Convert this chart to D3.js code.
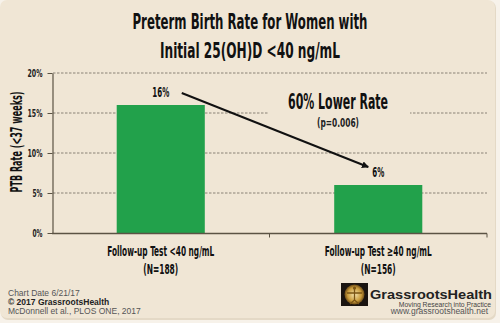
<!DOCTYPE html>
<html><head><meta charset="utf-8">
<script src="https://cdn.jsdelivr.net/npm/d3@7"></script>
<style>
html,body{margin:0;padding:0;background:#f7f2ea;}
svg{display:block;}
.cond{font-family:'Liberation Sans Narrow','DejaVu Sans Condensed',sans-serif;font-weight:bold;}
.arial{font-family:'Liberation Sans',Arial,sans-serif;}
</style>
</head><body>
<script>
const categories = ["Follow-up Test <40 ng/mL", "Follow-up Test \u226540 ng/mL"];
const sampleSizes = ["(N=188)", "(N=156)"];
const rates = [16, 6];
const valueLabels = ["16%", "6%"];
const yTicks = [0, 5, 10, 15, 20];
const titleLines = ["Preterm Birth Rate for Women with", "Initial 25(OH)D <40 ng/mL"];
const footerLines = ["Chart Date 6/21/17", "\u00a9 2017 GrassrootsHealth", "McDonnell et al., PLOS ONE, 2017"];

const W = 500, H = 323;
const svg = d3.select("body").append("svg").attr("width", W).attr("height", H);

svg.append("rect").attr("x", 1).attr("y", 1).attr("width", 495).attr("height", 319)
  .attr("rx", 7).attr("fill", "#e4d9c6");
svg.append("rect").attr("x", 0).attr("y", 0).attr("width", 495).attr("height", 318)
  .attr("rx", 7).attr("fill", "#f0e6d5");

const x = d3.scaleBand().domain(categories).range([52, 487]).paddingInner(0.595).paddingOuter(0.2975);
const y = d3.scaleLinear().domain([0, 20]).range([233, 73]);

// title
svg.selectAll(".title").data(titleLines).join("text")
  .attr("class", "cond").attr("x", 250).attr("y", (d, i) => 29 + i * 28.5)
  .attr("text-anchor", "middle").attr("font-size", 22).attr("fill", "#111")
  .attr("textLength", (d, i) => i === 0 ? 235 : 180).attr("lengthAdjust", "spacingAndGlyphs")
  .text(d => d);

// gridlines
svg.append("g").selectAll("line").data(yTicks.filter(t => t > 0)).join("line")
  .attr("x1", 53).attr("x2", 487).attr("y1", d => y(d)).attr("y2", d => y(d))
  .attr("stroke", "#8a8276").attr("stroke-width", 1).attr("stroke-dasharray", "2.5,1.5");

// annotation background
svg.append("rect").attr("x", 268).attr("y", 88).attr("width", 142).attr("height", 44).attr("fill", "#f0e6d5");

// bars
svg.selectAll(".bar").data(rates).join("rect")
  .attr("x", (d, i) => x(categories[i])).attr("width", x.bandwidth())
  .attr("y", d => y(d)).attr("height", d => y(0) - y(d)).attr("fill", "#22a14b");

// y axis
const yAxis = d3.axisLeft(y).tickValues(yTicks).tickFormat(d => d + "%").tickSize(5).tickSizeOuter(0);
const ga = svg.append("g").attr("transform", "translate(52.5,0)").call(yAxis);
ga.select(".domain").attr("stroke", "#5b5344").attr("stroke-width", 1.2);
ga.selectAll(".tick line").attr("stroke", "#5b5344");
ga.selectAll(".tick text").attr("class", "cond").attr("font-size", 11).attr("fill", "#222")
  .attr("x", -10).attr("dy", "0.35em")
  .attr("textLength", d => d >= 10 ? 15 : 10).attr("lengthAdjust", "spacingAndGlyphs");

// x axis
const gx = svg.append("g").attr("transform", "translate(0,233.5)");
gx.append("line").attr("x1", 52).attr("x2", 487).attr("stroke", "#5b5344").attr("stroke-width", 1.4);
gx.selectAll(".xt").data([x.step() + 52, 487]).join("line")
  .attr("x1", d => d).attr("x2", d => d).attr("y1", 0).attr("y2", 4).attr("stroke", "#5b5344");

// category labels
svg.selectAll(".cat").data(categories).join("text")
  .attr("class", "cond").attr("x", d => x(d) + x.bandwidth() / 2).attr("y", 255.5)
  .attr("text-anchor", "middle").attr("font-size", 14).attr("fill", "#111")
  .attr("textLength", 107).attr("lengthAdjust", "spacingAndGlyphs").text(d => d);
svg.selectAll(".ncat").data(sampleSizes).join("text")
  .attr("class", "cond").attr("x", (d, i) => x(categories[i]) + x.bandwidth() / 2).attr("y", 273.5)
  .attr("text-anchor", "middle").attr("font-size", 14).attr("fill", "#111")
  .attr("textLength", 35).attr("lengthAdjust", "spacingAndGlyphs").text(d => d);

// y axis title
svg.append("text").attr("class", "cond")
  .attr("transform", "translate(22,142) rotate(-90)").attr("text-anchor", "middle")
  .attr("font-size", 15).attr("fill", "#111")
  .attr("textLength", 101).attr("lengthAdjust", "spacingAndGlyphs")
  .text("PTB Rate (<37 weeks)");

// value labels
svg.selectAll(".val").data(rates).join("text")
  .attr("class", "cond").attr("x", (d, i) => x(categories[i]) + x.bandwidth() / 2)
  .attr("y", d => y(d) - 8).attr("text-anchor", "middle").attr("font-size", 13.5).attr("fill", "#111")
  .attr("textLength", (d, i) => i === 0 ? 17 : 12).attr("lengthAdjust", "spacingAndGlyphs")
  .text((d, i) => valueLabels[i]);

// arrow
svg.append("defs").append("marker").attr("id", "ah").attr("viewBox", "0 0 10 10")
  .attr("refX", 9).attr("refY", 5).attr("markerWidth", 7).attr("markerHeight", 7)
  .attr("markerUnits", "userSpaceOnUse").attr("orient", "auto")
  .append("path").attr("d", "M0,0 L10,5 L0,10 Z").attr("fill", "#111");
const ax0 = x(categories[0]) + x.bandwidth() / 2 + 21, ay0 = y(rates[0]) - 12;
const ax1 = x(categories[1]) + x.bandwidth() / 2 - 10, ay1 = y(rates[1]) - 18;
svg.append("line").attr("x1", ax0).attr("y1", ay0).attr("x2", ax1).attr("y2", ay1)
  .attr("stroke", "#111").attr("stroke-width", 2).attr("marker-end", "url(#ah)");

// annotation
svg.append("text").attr("class", "cond").attr("x", 338).attr("y", 109).attr("text-anchor", "middle")
  .attr("font-size", 21).attr("fill", "#111").attr("textLength", 100).attr("lengthAdjust", "spacingAndGlyphs")
  .text("60% Lower Rate");
svg.append("text").attr("class", "cond").attr("x", 338).attr("y", 127).attr("text-anchor", "middle")
  .attr("font-size", 12).attr("font-weight", "normal").attr("fill", "#222").attr("textLength", 42).attr("lengthAdjust", "spacingAndGlyphs")
  .text("(p=0.006)");

// footer
svg.selectAll(".foot").data(footerLines).join("text")
  .attr("class", "arial").attr("x", 8).attr("y", (d, i) => 296 + i * 9)
  .attr("font-size", 8.5).attr("font-weight", (d, i) => i === 1 ? "bold" : "normal")
  .attr("fill", (d, i) => i === 1 ? "#222" : "#555").text(d => d);

// logo
const lg = svg.append("g");
const grad = svg.select("defs").append("radialGradient").attr("id", "lgGrad");
grad.append("stop").attr("offset", "0%").attr("stop-color", "#f7e6b0");
grad.append("stop").attr("offset", "70%").attr("stop-color", "#c89a3a");
grad.append("stop").attr("offset", "100%").attr("stop-color", "#6b4a16");
lg.append("rect").attr("x", 341).attr("y", 283).attr("width", 27).attr("height", 23).attr("fill", "#1a1410");
lg.append("circle").attr("cx", 354.5).attr("cy", 294.5).attr("r", 10).attr("fill", "url(#lgGrad)");
lg.append("path").attr("d", "M354.5,288 L354.5,300 M347,293 L362,293 M354.5,300 L350,304 M354.5,300 L359,304")
  .attr("stroke", "#7a5516").attr("stroke-width", 1.3).attr("fill", "none");
lg.append("circle").attr("cx", 354.5).attr("cy", 288).attr("r", 1.6).attr("fill", "#7a5516");
lg.append("text").attr("class", "arial").attr("x", 492).attr("y", 298.5).attr("text-anchor", "end")
  .attr("font-size", 13).attr("font-weight", "bold").attr("fill", "#222")
  .attr("textLength", 122).attr("lengthAdjust", "spacingAndGlyphs").text("GrassrootsHealth");
lg.append("text").attr("class", "arial").attr("x", 491).attr("y", 306.5).attr("text-anchor", "end")
  .attr("font-size", 6.8).attr("fill", "#444").text("Moving Research into Practice");
lg.append("text").attr("class", "arial").attr("x", 488).attr("y", 314).attr("text-anchor", "end")
  .attr("font-size", 8.5).attr("fill", "#555").text("www.grassrootshealth.net");
</script>
</body></html>
